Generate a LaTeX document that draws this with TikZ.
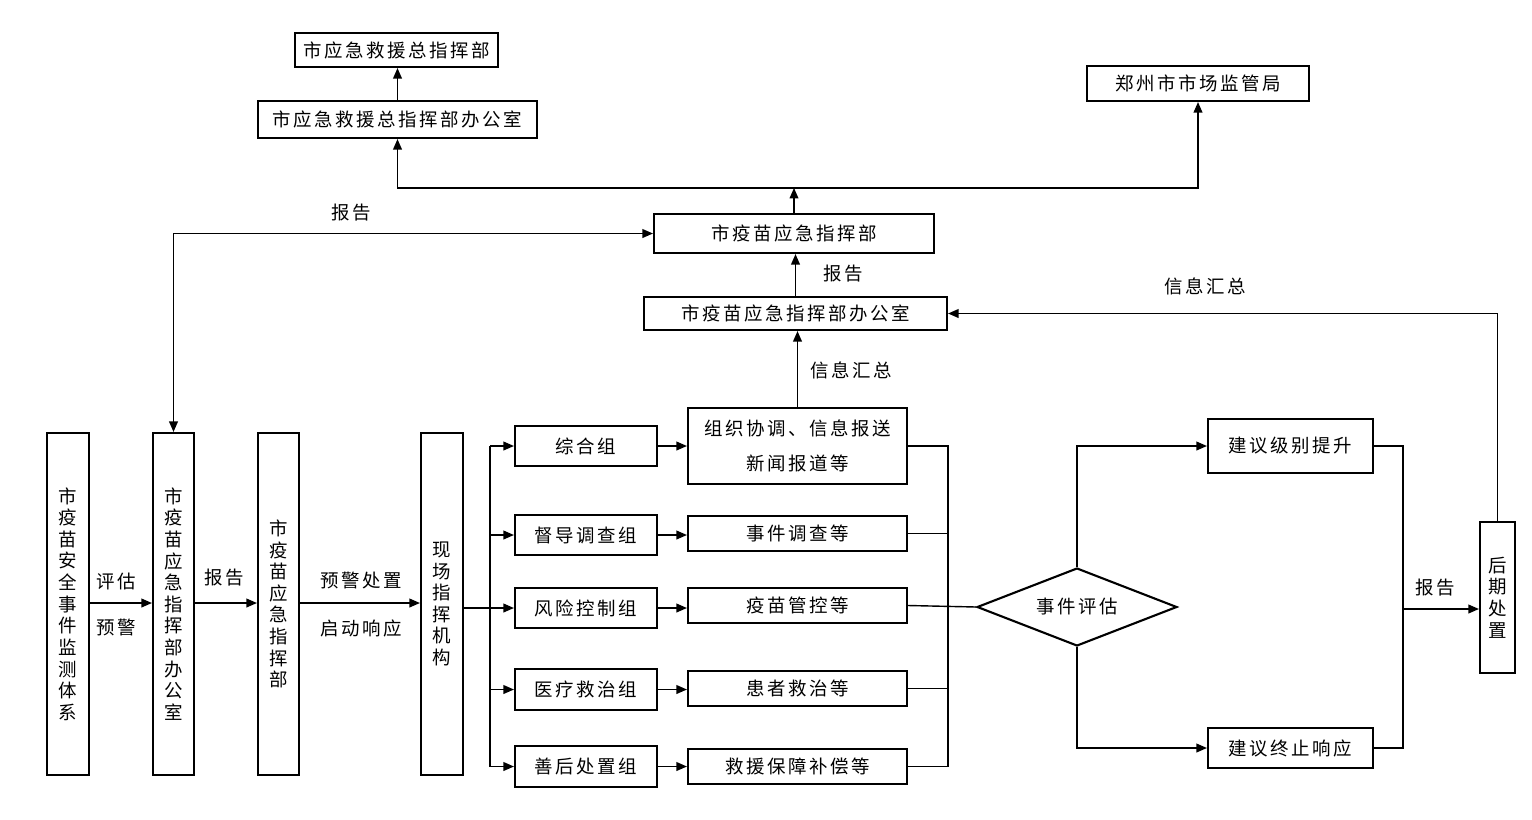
\documentclass[tikz,border=0pt]{standalone}
\usepackage{fontspec}
\setmainfont[LetterSpace=14]{Noto Sans CJK SC}
\usetikzlibrary{arrows.meta,shapes.geometric,calc}
\newcommand\myfs{\fontsize{10.5}{12.3}\selectfont}
\tikzset{
  box/.style={draw, line width=1.2pt, inner sep=0pt, align=center},
  sz/.style 2 args={minimum width=#1*0.02cm, minimum height=#2*0.02cm},
  ln/.style={line width=0.8pt},
  arr/.style={ln, -{Triangle[length=6pt,width=5pt]}},
  darr/.style={ln, {Triangle[length=6pt,width=5pt]}-{Triangle[length=6pt,width=5pt]}},
  lab/.style={inner sep=0pt},
}
\begin{document}
\begin{tikzpicture}[x=0.02cm,y=-0.02cm,font=\myfs]
\path[use as bounding box,fill=white] (0,0) rectangle (1532,819);
% top boxes
\node[box, sz={203}{34}] (zb) at (396.5,50) {市应急救援总指挥部};
\node[box, sz={279}{37}] (zbo) at (397.5,119.5) {市应急救援总指挥部办公室};
\node[box, sz={222}{35}] (zj) at (1198,83.5) {郑州市市场监管局};
\node[box, sz={280}{39}] (yq) at (794,233.5) {市疫苗应急指挥部};
\node[box, sz={303}{33}] (yqb) at (795.5,313.5) {市疫苗应急指挥部办公室};
% vertical boxes
\node[box, sz={42}{342}] (v1) at (68,604) {市\\疫\\苗\\安\\全\\事\\件\\监\\测\\体\\系};
\node[box, sz={41}{342}] (v2) at (173.5,604) {市\\疫\\苗\\应\\急\\指\\挥\\部\\办\\公\\室};
\node[box, sz={41}{342}] (v3) at (278.5,604) {市\\疫\\苗\\应\\急\\指\\挥\\部};
\node[box, sz={42}{342}] (v4) at (442,604) {现\\场\\指\\挥\\机\\构};
% groups
\node[box, sz={142}{40}] (g1) at (586,446) {综合组};
\node[box, sz={142}{40}] (g2) at (586,535) {督导调查组};
\node[box, sz={142}{40}] (g3) at (586,608) {风险控制组};
\node[box, sz={142}{41}] (g4) at (586,689.5) {医疗救治组};
\node[box, sz={142}{41}] (g5) at (586,766.5) {善后处置组};
% tasks
\node[box, sz={219}{76}, font=\fontsize{10.5}{19.5}\selectfont] (r1) at (797.5,446) {组织协调、信息报送\\新闻报道等};
\node[box, sz={219}{35}] (r2) at (797.5,533.5) {事件调查等};
\node[box, sz={219}{35}] (r3) at (797.5,605.5) {疫苗管控等};
\node[box, sz={219}{35}] (r4) at (797.5,688.5) {患者救治等};
\node[box, sz={219}{35}] (r5) at (797.5,766.5) {救援保障补偿等};
% diamond
\node[draw, line width=1.2pt, diamond, shape aspect=2.56, inner sep=0pt, minimum width=4cm, minimum height=1.56cm] (dm) at (1077,607) {事件评估};
\node[box, sz={165}{54}] (s1) at (1290.5,446) {建议级别提升};
\node[box, sz={165}{40}] (s2) at (1290.5,748) {建议终止响应};
\node[box, sz={35}{151}] (hq) at (1497.5,597.5) {后\\期\\处\\置};
% labels
\node[lab] (l1) at (351,213) {报告};
\node[lab] (l2) at (843,274) {报告};
\node[lab] (l3) at (851,370) {信息汇总};
\node[lab] (l4) at (1205,286) {信息汇总};
\node[lab] (l5) at (116,581) {评估};
\node[lab] (l6) at (116,627) {预警};
\node[lab] (l7) at (224,578) {报告};
\node[lab] (l8) at (361,580) {预警处置};
\node[lab] (l9) at (361,628) {启动响应};
\node[lab] (l10) at (1435,588) {报告};
% coordinates
\coordinate (m1) at (0,603);
\coordinate (m2) at (0,609);
\coordinate (m3) at (0,608);
\coordinate (bL) at (490,0);
\coordinate (bR) at (948,0);
\coordinate (bS) at (1403,0);
\coordinate (j) at ($(yq.north)+(0,-25)$);
% top connectors
\draw[arr] (zbo.north) -- (zbo.north |- zb.south);
\draw[arr] (yq.north) -- (j);
\draw[arr] (j) -| (zbo.south);
\draw[arr] (j) -| (zj.south);
\draw[arr] (yqb.north) -- (yqb.north |- yq.south);
\draw[arr] (r1.north) -- (r1.north |- yqb.south);
\draw[darr] (v2.north) |- (yq.west);
\draw[arr] (hq.north) |- (yqb.east);
% left chain
\draw[arr] (v1.east |- m1) -- (v2.west |- m1);
\draw[arr] (v2.east |- m1) -- (v3.west |- m1);
\draw[arr] (v3.east |- m1) -- (v4.west |- m1);
% bus to groups
\draw[ln] (v4.east |- m3) -- (bL |- m3);
\draw[ln] (bL |- g1) -- (bL |- g5);
\foreach \i in {1,...,5} {
  \draw[arr] (bL |- g\i) -- (g\i.west);
  \draw[arr] (g\i.east) -- (r\i.west |- g\i.east);
}
% right bus
\draw[ln] (r1.east) -- (bR |- r1.east) -- (bR |- r5.east) -- (r5.east);
\draw[ln] (r2.east) -- (bR |- r2.east);
\draw[ln] (r4.east) -- (bR |- r4.east);
\draw[ln] (r3.east) -- (dm.west);
% diamond outputs
\draw[arr] (dm.north) |- (s1.west);
\draw[arr] (dm.south) |- (s2.west);
\draw[ln] (s1.east) -- (bS |- s1.east) -- (bS |- s2.east) -- (s2.east);
\draw[arr] (bS |- m2) -- (hq.west |- m2);
\end{tikzpicture}
\end{document}
